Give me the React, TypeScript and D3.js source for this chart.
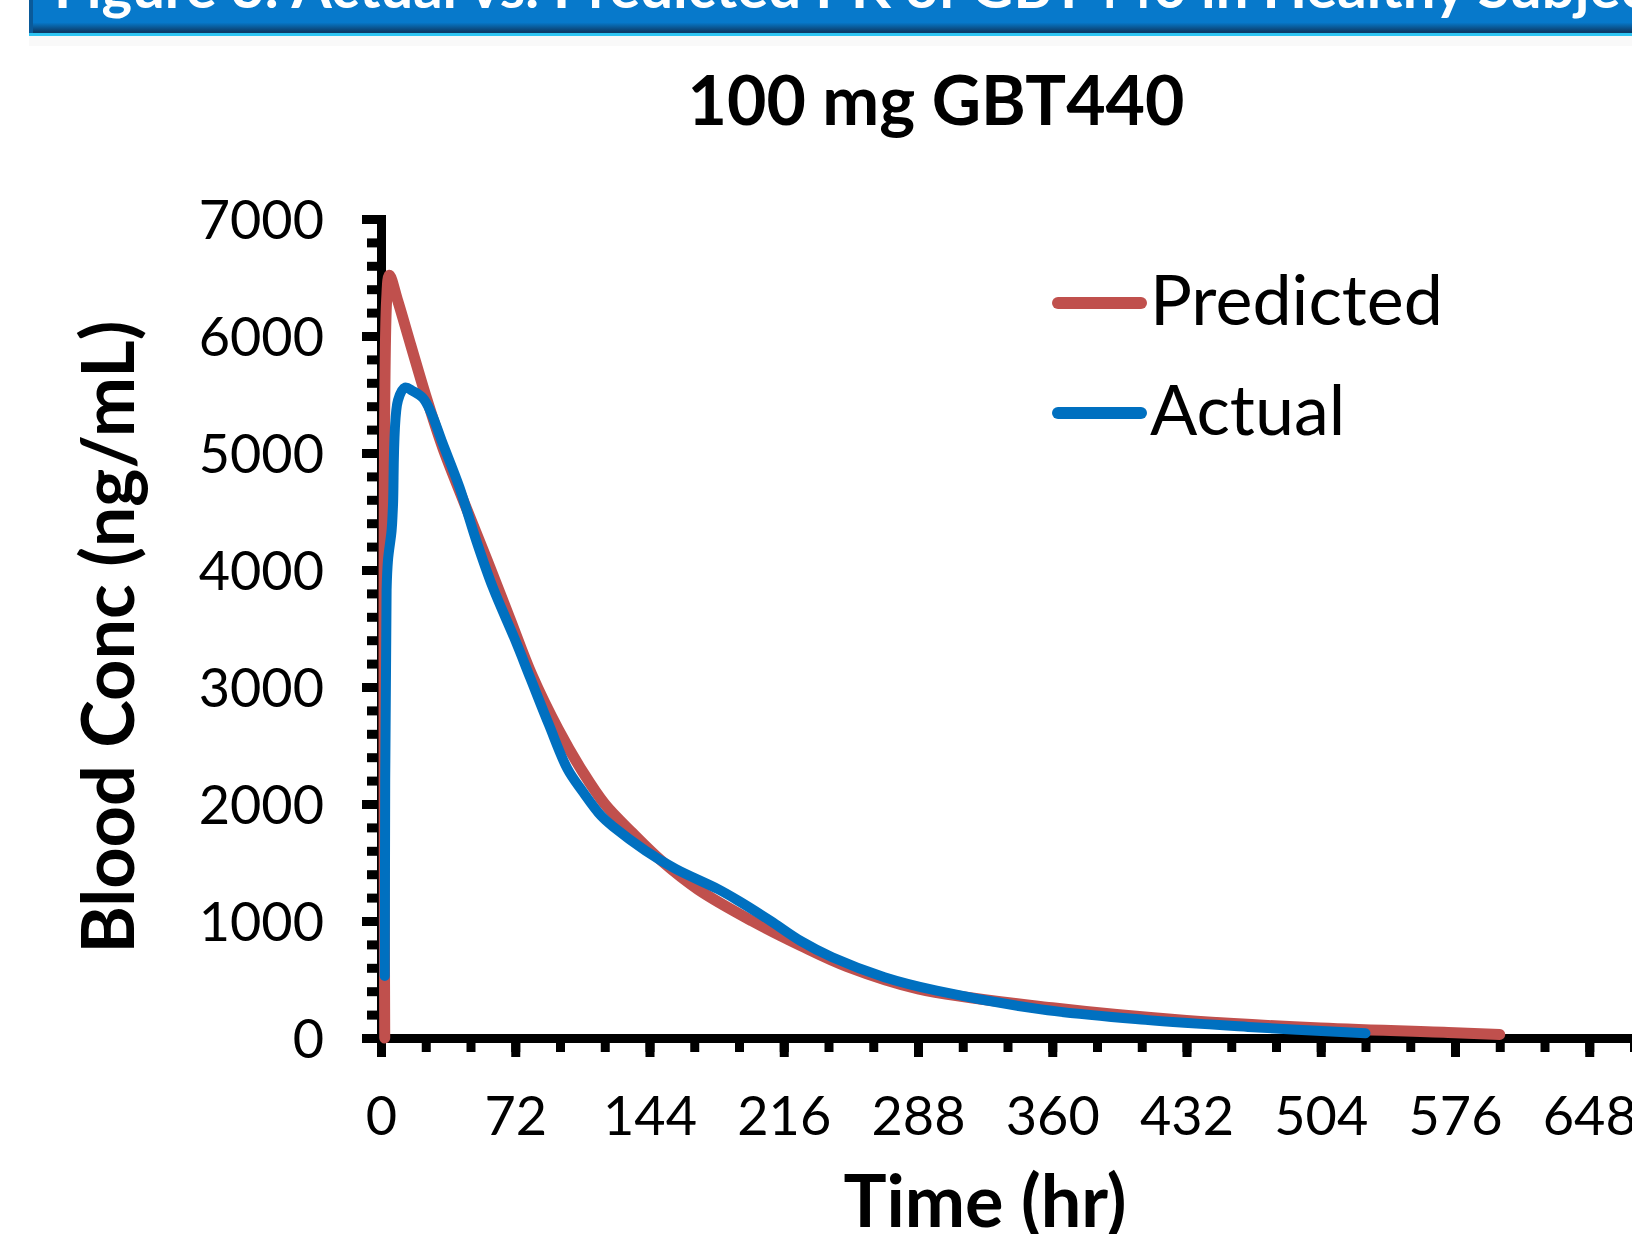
import React, { useRef, useEffect } from 'react';
import * as d3 from 'd3';

// axis ticks
const timeTicks = [0, 72, 144, 216, 288, 360, 432, 504, 576, 648, 720];
const timeMinor = d3.range(0, 745, 24);
const concTicks = [0, 1000, 2000, 3000, 4000, 5000, 6000, 7000];
const concMinor = d3.range(0, 7001, 200);

// predicted PK profile (hr, ng/mL)
const predictedTime = [2, 3, 4.5, 9, 16, 24, 33, 45, 57, 69, 81, 95, 108, 120, 135, 150, 170, 199, 225, 250, 288, 360, 432, 504, 576, 600];
const predictedConc = [0, 6300, 6520, 6300, 5920, 5490, 5050, 4560, 4080, 3590, 3100, 2640, 2280, 2000, 1750, 1520, 1270, 1000, 790, 610, 420, 258, 150, 85, 45, 30];

// observed PK profile (hr, ng/mL)
const actualTime = [2, 3, 3.75, 5.7, 6.4, 9.1, 13, 17, 22.5, 27, 33, 42, 51, 60, 72, 80, 90, 100, 108, 118, 125, 142, 158, 181, 192, 209, 225, 242, 270, 298, 354, 410, 465, 528];
const actualConc = [530, 3830, 4085, 4340, 4540, 5450, 5560, 5530, 5470, 5340, 5085, 4710, 4256, 3850, 3400, 3080, 2680, 2300, 2110, 1900, 1800, 1600, 1445, 1270, 1170, 1000, 830, 690, 520, 405, 245, 155, 95, 40];

const seriesNames = ['Predicted', 'Actual'];
const seriesColors = ['#C0504D', '#0070C0'];

const W = 1632, H = 1234;
const font = 'Lato, "Open Sans", sans-serif';

function App() {
  const ref = useRef<SVGGElement>(null);

  const x = d3.scaleLinear().domain([0, 720]).range([381, 381 + 10 * 134.25]);
  const y = d3.scaleLinear().domain([0, 7000]).range([1038, 219]);

  useEffect(() => {
    const g = d3.select(ref.current);
    g.selectAll('*').remove();

    // minor ticks first
    g.append('g')
      .attr('transform', 'translate(0,' + y(0) + ')')
      .call(d3.axisBottom(x).tickValues(timeMinor).tickSize(14).tickSizeOuter(0).tickFormat(() => ''))
      .call(s => s.select('.domain').remove());
    g.append('g')
      .attr('transform', 'translate(' + x(0) + ',0)')
      .call(d3.axisLeft(y).tickValues(concMinor).tickSize(14).tickSizeOuter(0).tickFormat(() => ''))
      .call(s => s.select('.domain').remove());

    const xa = g.append('g')
      .attr('transform', 'translate(0,' + y(0) + ')')
      .call(d3.axisBottom(x).tickValues(timeTicks).tickSize(19).tickSizeOuter(0).tickPadding(40).tickFormat(d3.format('d')));
    xa.selectAll('text').attr('dy', '0.71em');

    const ya = g.append('g')
      .attr('transform', 'translate(' + x(0) + ',0)')
      .call(d3.axisLeft(y).tickValues(concTicks).tickSize(19).tickSizeOuter(0).tickPadding(38).tickFormat(d3.format('d')));
    ya.selectAll('text').attr('dy', '0.36em');

    g.selectAll('.tick line').attr('stroke', '#000').attr('stroke-width', 9);
    g.selectAll('.domain').attr('stroke', '#000').attr('stroke-width', 9).attr('stroke-linecap', 'square');
    g.selectAll('.tick text')
      .attr('font-family', font)
      .attr('font-size', 54)
      .attr('fill', '#000');
    g.selectAll('g').attr('font-family', null).attr('font-size', null);
  }, []);

  const makePath = (ts: number[], cs: number[]) =>
    d3.line<[number, number]>()
      .x(d => x(d[0]))
      .y(d => y(d[1]))
      .curve(d3.curveCatmullRom.alpha(0.5))(ts.map((t, i) => [t, cs[i]] as [number, number])) || '';

  return (
    <div style={{ position: 'absolute', left: 0, top: 0, width: W, height: H, background: '#fff' }}>
      <svg width={W} height={H} style={{ display: 'block' }}>
        <defs>
          <linearGradient id="bannerGrad" x1="0" y1="0" x2="0" y2="1">
            <stop offset="0" stopColor="#0779CB" />
            <stop offset="0.68" stopColor="#0779CB" />
            <stop offset="0.96" stopColor="#0c3c68" />
            <stop offset="1" stopColor="#0c3c68" />
          </linearGradient>
        </defs>
        <rect x={0} y={0} width={W} height={H} fill="#fff" />
        {/* header banner */}
        <rect x={29} y={36} width={W - 29} height={10} fill="#f9f9f9" />
        <rect x={29} y={0} width={W - 29} height={33} fill="url(#bannerGrad)" />
        <rect x={29} y={0} width={4} height={33} fill="#0a5a9a" />
        <rect x={29} y={33} width={W - 29} height={3} fill="#2ec5f3" />
        <text x={54} y={8} fontFamily={font} fontWeight="bold" fontSize={58} fill="#fff">
          Figure 3: Actual vs. Predicted PK of GBT440 in Healthy Subjects
        </text>

        <text x={936} y={125} textAnchor="middle" fontFamily={font} fontWeight="bold" fontSize={68} fill="#000">
          100 mg GBT440
        </text>

        <g ref={ref} />

        <path d={makePath(predictedTime, predictedConc)} fill="none" stroke={seriesColors[0]}
          strokeWidth={11} strokeLinecap="round" strokeLinejoin="round" />
        <path d={makePath(actualTime, actualConc)} fill="none" stroke={seriesColors[1]}
          strokeWidth={10} strokeLinecap="round" strokeLinejoin="round" />

        {/* legend */}
        {seriesNames.map((name, i) => (
          <g key={name} transform={'translate(0,' + (303 + i * 110) + ')'}>
            <line x1={1058} x2={1141} y1={0} y2={0} stroke={seriesColors[i]} strokeWidth={12} strokeLinecap="round" />
            <text x={1150} y={22} fontFamily={font} fontSize={70} fill="#000">{name}</text>
          </g>
        ))}

        {/* axis titles */}
        <text transform="translate(134,637) rotate(-90)" textAnchor="middle" fontFamily={font}
          fontWeight="bold" fontSize={72} fill="#000">
          Blood Conc (ng/mL)
        </text>
        <text x={985} y={1227} textAnchor="middle" fontFamily={font} fontWeight="bold" fontSize={72} fill="#000">
          Time (hr)
        </text>
      </svg>
    </div>
  );
}

export default App;
